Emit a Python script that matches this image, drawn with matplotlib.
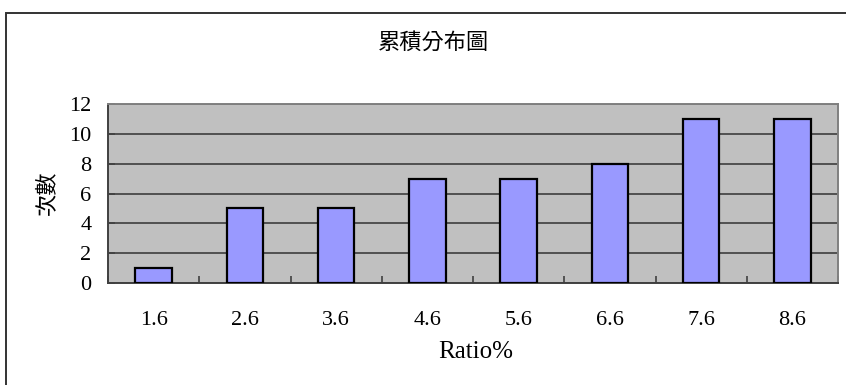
import matplotlib
matplotlib.use("Agg")
import matplotlib.pyplot as plt
import numpy as np
from matplotlib.patches import Rectangle

# chart data
categories = ["1.6", "2.6", "3.6", "4.6", "5.6", "6.6", "7.6", "8.6"]
counts = [1, 5, 5, 7, 7, 8, 11, 11]

plt.rcParams["font.family"] = ["Liberation Serif", "Noto Sans CJK TC"]

W, H = 846, 385
fig = plt.figure(figsize=(W / 100, H / 100), dpi=100)

# outer chart border (Excel chart area)
fig.patches.append(Rectangle((6 / W, -0.1), 1.2, 1 - 13 / H + 0.1,
                             transform=fig.transFigure, fill=False,
                             edgecolor="#333333", linewidth=1.4))

ax = fig.add_axes([108 / W, (H - 283) / H, 730 / W, 179 / H])
ax.set_facecolor("#C0C0C0")

x = np.arange(len(categories))
ax.bar(x, counts, width=0.4, color="#9999FF", edgecolor="black",
       linewidth=1.6, zorder=3)

ax.set_xlim(-0.5, len(categories) - 0.5)
ax.set_ylim(0, 12)
ax.set_yticks(range(0, 13, 2))
ax.set_xticks(x)
ax.set_xticklabels(categories)
ax.set_xticks(np.arange(-0.5, len(categories)), minor=True)
ax.tick_params(axis="x", which="major", length=0, pad=20, labelsize=16)
ax.tick_params(axis="x", which="minor", length=5, width=1.2,
               color="#404040", direction="in")
ax.tick_params(axis="y", length=5, width=1.2, color="#404040",
               direction="in", pad=12, labelsize=16)

ax.grid(axis="y", color="#333333", linewidth=1.1, zorder=1)
for side in ["top", "right"]:
    ax.spines[side].set_color("#808080")
    ax.spines[side].set_linewidth(1.4)
for side in ["left", "bottom"]:
    ax.spines[side].set_color("#404040")
    ax.spines[side].set_linewidth(1.4)

fig.text(433 / W, 1 - 42 / H, "累積分布圖", ha="center", va="center",
         fontsize=16, family=["Noto Sans CJK TC"], fontweight="light")
fig.text(47 / W, 1 - 193 / H, "次數", ha="center", va="center",
         rotation=90, fontsize=16, family=["Noto Sans CJK TC"],
         fontweight="light")
fig.text(476 / W, 1 - 352 / H, "Ratio%", ha="center", va="center",
         fontsize=18)

fig.savefig("out.png", dpi=100)
